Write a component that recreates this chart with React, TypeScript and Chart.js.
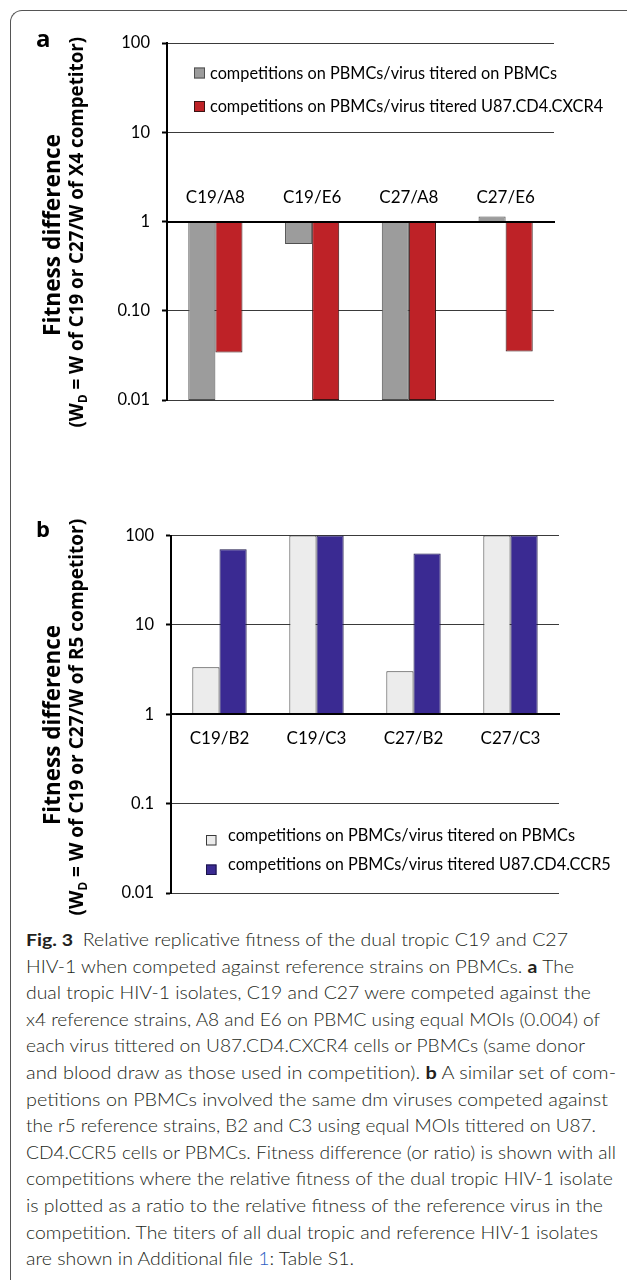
import React, { useEffect, useRef } from 'react';
import { Chart, registerables } from 'chart.js';

Chart.register(...registerables);

// ---------- data ----------
const categoriesA = ['C19/A8', 'C19/E6', 'C27/A8', 'C27/E6'];
const pbmcTiteredA = [0.01, 0.56, 0.01, 1.14];
const u87TiteredA = [0.034, 0.01, 0.01, 0.035];

const categoriesB = ['C19/B2', 'C19/C3', 'C27/B2', 'C27/C3'];
const pbmcTiteredB = [3.35, 100, 3.02, 100];
const u87TiteredB = [70, 100, 63, 100];

const tickValues = [0.01, 0.1, 1, 10, 100];
const tickLabelsA = ['0.01', '0.10', '1', '10', '100'];
const tickLabelsB = ['0.01', '0.1', '1', '10', '100'];

const legendLabelsA = [
  'competitions on PBMCs/virus titered on PBMCs',
  'competitions on PBMCs/virus titered U87.CD4.CXCR4',
];
const legendLabelsB = [
  'competitions on PBMCs/virus titered on PBMCs',
  'competitions on PBMCs/virus titered U87.CD4.CCR5',
];

const yTitleMain = 'Fitness difference';
const yTitleSubA = ['(W', 'D', ' = W of C19 or C27/W of X4 competitor)'];
const yTitleSubB = ['(W', 'D', ' = W of C19 or C27/W of R5 competitor)'];

type Seg = { t: string; b?: boolean; link?: boolean };
const captionLines: Seg[][] = [
  [{ t: 'Fig. 3', b: true }, { t: '\u2002Relative replicative fitness of the dual tropic C19 and C27' }],
  [{ t: 'HIV-1 when competed against reference strains on PBMCs. ' }, { t: 'a', b: true }, { t: ' The' }],
  [{ t: 'dual tropic HIV-1 isolates, C19 and C27 were competed against the' }],
  [{ t: 'x4 reference strains, A8 and E6 on PBMC using equal MOIs (0.004) of' }],
  [{ t: 'each virus tittered on U87.CD4.CXCR4 cells or PBMCs (same donor' }],
  [{ t: 'and blood draw as those used in competition). ' }, { t: 'b', b: true }, { t: ' A similar set of com-' }],
  [{ t: 'petitions on PBMCs involved the same dm viruses competed against' }],
  [{ t: 'the r5 reference strains, B2 and C3 using equal MOIs tittered on U87.' }],
  [{ t: 'CD4.CCR5 cells or PBMCs. Fitness difference (or ratio) is shown with all' }],
  [{ t: 'competitions where the relative fitness of the dual tropic HIV-1 isolate' }],
  [{ t: 'is plotted as a ratio to the relative fitness of the reference virus in the' }],
  [{ t: 'competition. The titers of all dual tropic and reference HIV-1 isolates' }],
  [{ t: 'are shown in Additional file ' }, { t: '1', link: true }, { t: ': Table S1.' }],
];

// ---------- layout (pixels) ----------
const PAGE_W = 627;
const CAPTION_LEFT = 26;
const CAPTION_TOP = 927;
const CAPTION_LINE_H = 26.6;
const captionLineEnds = [568, 574, 591, 600, 585, 616, 608, 596, 616, 613, 603, 598, 354];

type Series = { label: string; data: number[]; bg: string; border: string };
type PanelCfg = {
  letter: string;
  top: number;
  height: number;
  categories: string[];
  series: Series[];
  tickLabels: string[];
  area: { l: number; r: number; t: number; b: number };
  catLabelDy: number;
  legend: { x: number; size: number; rowTops: number[]; textX: number; baselineDy: number };
  letterPos: { x: number; y: number; size: number };
  title: { x1: number; x2: number; cy1: number; cy2: number; len1: number; len2: number; sub: string[] };
};

const panelA: PanelCfg = {
  letter: 'a',
  top: 0,
  height: 470,
  categories: categoriesA,
  series: [
    { label: legendLabelsA[0], data: pbmcTiteredA, bg: '#9c9c9c', border: '#505050' },
    { label: legendLabelsA[1], data: u87TiteredA, bg: '#be2227', border: '#3a1414' },
  ],
  tickLabels: tickLabelsA,
  area: { l: 167, r: 554, t: 43, b: 400 },
  catLabelDy: -18.5,
  legend: { x: 194, size: 11, rowTops: [67.5, 101], textX: 210, baselineDy: 0 },
  letterPos: { x: 36, y: 47, size: 24 },
  title: { x1: 60, x2: 83, cy1: 235, cy2: 232, len1: 202, len2: 391, sub: yTitleSubA },
};

const panelB: PanelCfg = {
  letter: 'b',
  top: 470,
  height: 450,
  categories: categoriesB,
  series: [
    { label: legendLabelsB[0], data: pbmcTiteredB, bg: '#ececec', border: '#3a3a3a' },
    { label: legendLabelsB[1], data: u87TiteredB, bg: '#3a2a92', border: '#1a1448' },
  ],
  tickLabels: tickLabelsB,
  area: { l: 171, r: 559, t: 65.5, b: 423 },
  catLabelDy: 30,
  legend: { x: 206, size: 10.5, rowTops: [365, 394.5], textX: 228, baselineDy: -5 },
  letterPos: { x: 36, y: 67, size: 22 },
  title: { x1: 60, x2: 83, cy1: 255, cy2: 247, len1: 200, len2: 397, sub: yTitleSubB },
};

function drawYTitle(ctx: CanvasRenderingContext2D, p: PanelCfg) {
  const fam = '"Open Sans", "DejaVu Sans", sans-serif';
  ctx.save();
  ctx.fillStyle = '#000';
  ctx.textBaseline = 'alphabetic';
  // main line
  ctx.save();
  ctx.translate(p.title.x1, p.title.cy1);
  ctx.rotate(-Math.PI / 2);
  ctx.font = `bold 20px ${fam}`;
  const w = ctx.measureText(yTitleMain).width;
  const s1 = (20 * p.title.len1) / w;
  ctx.font = `bold ${s1}px ${fam}`;
  ctx.textAlign = 'center';
  ctx.fillText(yTitleMain, 0, 0);
  ctx.restore();
  // sub line with subscript
  ctx.save();
  ctx.translate(p.title.x2, p.title.cy2);
  ctx.rotate(-Math.PI / 2);
  const [a, d, c] = p.title.sub;
  const base = 20;
  ctx.font = `bold ${base}px ${fam}`;
  const wa = ctx.measureText(a).width;
  const wc = ctx.measureText(c).width;
  ctx.font = `bold ${base * 0.62}px ${fam}`;
  const wd = ctx.measureText(d).width;
  const k = p.title.len2 / (wa + wd + wc);
  const fs = base * k;
  ctx.textAlign = 'left';
  let x = -p.title.len2 / 2;
  ctx.font = `bold ${fs}px ${fam}`;
  ctx.fillText(a, x, 0);
  x += wa * k;
  ctx.font = `bold ${fs * 0.62}px ${fam}`;
  ctx.fillText(d, x, fs * 0.22);
  x += wd * k;
  ctx.font = `bold ${fs}px ${fam}`;
  ctx.fillText(c, x, 0);
  ctx.restore();
  ctx.restore();
}

function makeDecor(p: PanelCfg) {
  return {
    id: 'panelDecor',
    afterDraw(chart: any) {
      const ctx: CanvasRenderingContext2D = chart.ctx;
      const xs = chart.scales.x;
      const ys = chart.scales.y;
      const y1 = ys.getPixelForValue(1);
      ctx.save();
      // category labels at the crossing line
      ctx.font = '17px Lato, sans-serif';
      ctx.fillStyle = '#000';
      ctx.textAlign = 'center';
      ctx.textBaseline = 'alphabetic';
      p.categories.forEach((c, i) => {
        ctx.fillText(c, xs.getPixelForValue(i), y1 + p.catLabelDy);
      });
      // legend
      chart.data.datasets.forEach((ds: any, i: number) => {
        const top = p.legend.rowTops[i];
        const sz = p.legend.size;
        ctx.fillStyle = ds.backgroundColor;
        ctx.fillRect(p.legend.x, top, sz, sz);
        ctx.strokeStyle = ds.borderColor;
        ctx.lineWidth = 1;
        ctx.strokeRect(p.legend.x + 0.5, top + 0.5, sz - 1, sz - 1);
        ctx.fillStyle = '#000';
        ctx.textAlign = 'left';
        ctx.font = '16.3px Lato, sans-serif';
        ctx.fillText(ds.label, p.legend.textX, top + sz + p.legend.baselineDy);
      });
      // panel letter
      ctx.font = `bold ${p.letterPos.size}px "Open Sans", sans-serif`;
      ctx.fillStyle = '#000';
      ctx.textAlign = 'left';
      ctx.fillText(p.letter, p.letterPos.x, p.letterPos.y);
      ctx.restore();
      drawYTitle(ctx, p);
    },
  };
}

function Panel({ p }: { p: PanelCfg }) {
  const ref = useRef<HTMLCanvasElement | null>(null);
  useEffect(() => {
    const canvas = ref.current;
    if (!canvas) return;
    const labelFor = (v: number) => {
      const i = tickValues.findIndex((t) => Math.abs(Math.log10(t) - Math.log10(v)) < 1e-6);
      return i >= 0 ? p.tickLabels[i] : '';
    };
    const chart = new Chart(canvas, {
      type: 'bar',
      data: {
        labels: p.categories,
        datasets: p.series.map((s) => ({
          label: s.label,
          data: s.data,
          backgroundColor: s.bg,
          borderColor: s.border,
          borderWidth: 1,
          base: 1,
          barPercentage: 1,
          categoryPercentage: 0.56,
        })),
      },
      options: {
        animation: false,
        responsive: false,
        devicePixelRatio: window.devicePixelRatio || 1,
        layout: {
          padding: { left: 0, right: PAGE_W - p.area.r, top: p.area.t, bottom: p.height - p.area.b },
        },
        plugins: {
          legend: { display: false },
          tooltip: { enabled: false },
          title: { display: false },
        },
        scales: {
          x: {
            type: 'category',
            position: { y: 1 },
            grid: { display: false },
            ticks: { display: false },
            border: { display: true, color: '#000', width: 2, z: 1 },
          },
          y: {
            type: 'logarithmic',
            min: 0.01,
            max: 100,
            afterFit: (s: any) => {
              s.width = p.area.l;
            },
            afterBuildTicks: (s: any) => {
              s.ticks = tickValues.map((v) => ({ value: v }));
            },
            ticks: {
              callback: (v: any) => labelFor(Number(v)),
              font: { family: 'Lato, sans-serif', size: 16.5 },
              color: '#000',
              padding: 12,
              autoSkip: false,
            },
            grid: {
              color: '#3a3a3a',
              lineWidth: 1,
              drawTicks: true,
              tickLength: 5,
              tickColor: '#000',
              tickWidth: 2,
            },
            border: { display: true, color: '#000', width: 2, z: 1 },
          },
        },
      } as any,
      plugins: [makeDecor(p)],
    });
    return () => chart.destroy();
  }, [p]);
  return (
    <canvas
      ref={ref}
      width={PAGE_W}
      height={p.height}
      style={{ position: 'absolute', left: 0, top: p.top, width: PAGE_W, height: p.height }}
    />
  );
}

function Caption() {
  const refs = useRef<(HTMLDivElement | null)[]>([]);
  useEffect(() => {
    const fit = () => {
      refs.current.forEach((el, i) => {
        if (!el) return;
        el.style.transform = 'none';
        const w = el.getBoundingClientRect().width;
        const target = captionLineEnds[i] - CAPTION_LEFT;
        if (w > 0) el.style.transform = `scaleX(${target / w})`;
      });
    };
    fit();
    if ((document as any).fonts && (document as any).fonts.ready) {
      (document as any).fonts.ready.then(fit);
    }
  }, []);
  return (
    <div
      style={{
        position: 'absolute',
        left: CAPTION_LEFT,
        top: CAPTION_TOP,
        fontFamily: 'Lato, "Open Sans", sans-serif',
        fontWeight: 300,
        fontSize: 17,
        lineHeight: `${CAPTION_LINE_H}px`,
        color: '#231f20',
      }}
    >
      {captionLines.map((line, i) => (
        <div key={i} style={{ height: CAPTION_LINE_H, whiteSpace: 'nowrap' }}>
          <span
            ref={(el) => {
              refs.current[i] = el as any;
            }}
            style={{ display: 'inline-block', transformOrigin: '0 0' }}
          >
            {line.map((s, j) => (
              <span
                key={j}
                style={{
                  fontWeight: s.b ? 700 : 300,
                  color: s.link ? '#2f5fc4' : undefined,
                }}
              >
                {s.t}
              </span>
            ))}
          </span>
        </div>
      ))}
    </div>
  );
}

export default function App() {
  useEffect(() => {
    document.body.style.margin = '0';
  }, []);
  return (
    <div
      style={{
        position: 'relative',
        width: PAGE_W,
        height: 1280,
        overflow: 'hidden',
        background: '#fff',
      }}
    >
      <div
        style={{
          position: 'absolute',
          left: 10,
          top: 10,
          width: 800,
          height: 1400,
          borderLeft: '1px solid #555',
          borderTop: '1px solid #555',
          borderTopLeftRadius: 12,
        }}
      />
      <Panel p={panelA} />
      <Panel p={panelB} />
      <Caption />
    </div>
  );
}
